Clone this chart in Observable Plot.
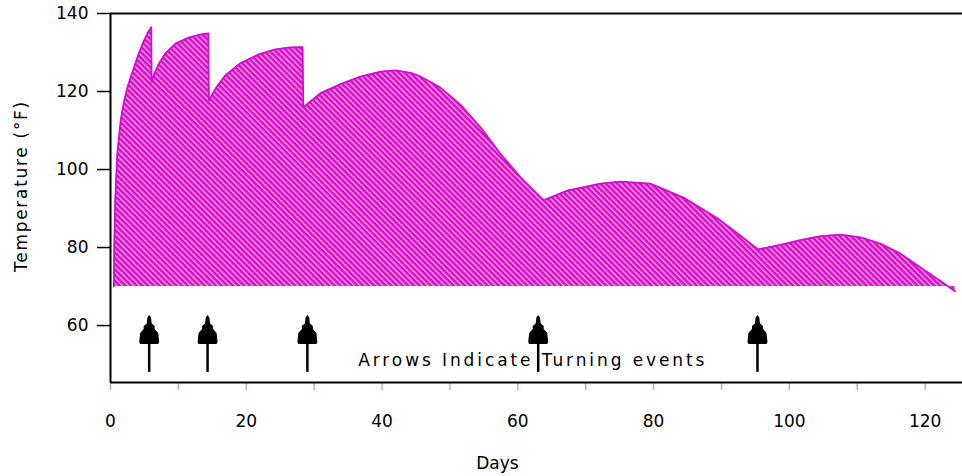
<!DOCTYPE html>
<html><head><meta charset="utf-8">
<script src="https://cdn.jsdelivr.net/npm/d3@7"></script>
<script src="https://cdn.jsdelivr.net/npm/@observablehq/plot@0.6"></script>
<style>
html,body{margin:0;padding:0;background:#fff;}
#chart svg{display:block;font-family:"DejaVu Sans",sans-serif;}
</style></head><body><div id="chart"></div>
<script>
const days = [0.5, 0.55, 0.7, 1.0, 1.5, 2.0, 2.5, 3.0, 3.4, 4.1, 4.8, 5.5, 6.0,
  6.05, 6.4, 7.1, 8.1, 9.6, 11.5, 13.2, 14.4,
  14.5, 15.5, 16.9, 19.1, 21.8, 24.3, 26.5, 28.3,
  28.4, 29.5, 31.0, 33.9, 36.8, 39.8, 42.0, 44.2, 45.7, 48.6, 51.5, 54.5, 57.4, 60.4, 63.8,
  67.3, 72.2, 75.1, 79.5, 84.4, 89.4, 92.8, 95.4,
  98.7, 101.6, 104.6, 107.5, 110.5, 113.4, 116.3, 119.3, 122.2, 124.4];
const temps = [70, 80, 92, 104, 112.5, 117.5, 121, 123.8, 125.8, 129.4, 132.5, 135, 136.5,
  122.5, 124.3, 127, 129.8, 132.3, 133.8, 134.6, 134.9,
  117.7, 120.8, 124.1, 127.2, 129.5, 130.8, 131.3, 131.4,
  115.9, 117.5, 119.6, 121.9, 123.8, 125.1, 125.4, 124.8, 123.8, 121.0, 116.7, 110.8, 104.1, 98.0, 92.1,
  94.6, 96.4, 96.9, 96.4, 92.8, 87.5, 83.0, 79.5,
  80.7, 81.9, 82.9, 83.3, 82.6, 81.0, 78.5, 74.9, 71.5, 68.8];
const turningDays = [5.7, 14.3, 29.0, 63.0, 95.3];
const yTicks = [60, 80, 100, 120, 140];
const xLabelTicks = [0, 20, 40, 60, 80, 100, 120];
const xMinorTicks = [0, 10, 20, 30, 40, 50, 60, 70, 80, 90, 100, 110, 120];
const baseline = 70;
const annotation = ["Arrows Indicate Turning events"];
const yTitle = ["Temperature (°F)"];
const xTitle = ["Days"];

const rows = days.map((d, i) => ({day: d, temp: temps[i]}));

const pine = {
  draw(ctx, size) {
    const k = Math.sqrt(size / Math.PI) / 14.5;
    const pts = [[0,-14.5],[1.8,-12],[2.5,-6],[5.5,-3.5],[5.5,-0.5],[9,3.5],[10,12.5],[9,14.5],[-9,14.5],[-10,12.5],[-9,3.5],[-5.5,-0.5],[-5.5,-3.5],[-2.5,-6],[-1.8,-12]];
    ctx.moveTo(pts[0][0]*k, pts[0][1]*k);
    for (const p of pts.slice(1)) ctx.lineTo(p[0]*k, p[1]*k);
    ctx.closePath();
  }
};

const plot = Plot.plot({
  width: 962, height: 476,
  marginLeft: 110, marginTop: 13, marginRight: 0, marginBottom: 94,
  x: {domain: [0, 125.5], label: null},
  y: {domain: [45.4, 140], label: null},
  style: {fontFamily: "DejaVu Sans, sans-serif", fontSize: "17px", color: "black", background: "white"},
  marks: [
    Plot.areaY(rows, {x: "day", y1: baseline, y2: "temp", fill: "url(#hatch)"}),
    Plot.line(rows, {x: "day", y: "temp", stroke: "#d00cd0", strokeWidth: 1.8}),
    Plot.axisX({ticks: xMinorTicks, tickSize: 8, tickFormat: () => "", stroke: "#c9a0d6", strokeWidth: 1.5, label: null}),
    Plot.axisX({ticks: xLabelTicks, tickSize: 0, tickPadding: 32, fontSize: 17, label: null}),
    Plot.axisY({ticks: yTicks, tickSize: 13, tickPadding: 9, fontSize: 17, strokeWidth: 1.5, label: null}),
    Plot.ruleX([0], {stroke: "black", strokeWidth: 2}),
    Plot.ruleY([140], {stroke: "black", strokeWidth: 2}),
    Plot.ruleY([45.4], {stroke: "black", strokeWidth: 2}),
    Plot.ruleX(turningDays, {x: d => d, y1: 48, y2: 56, stroke: "black", strokeWidth: 2.5}),
    Plot.dot(turningDays, {x: d => d, y: 59, r: 14.5, symbol: pine, fill: "black"}),
    Plot.text(annotation, {x: 62.2, y: 51, text: d => d, fontSize: 17, fill: "black"}),
    Plot.text(yTitle, {frameAnchor: "left", dx: -89, dy: -12, rotate: -90, textAnchor: "middle", lineAnchor: "middle", text: d => d, fontSize: 17, fill: "black"}),
    Plot.text(xTitle, {frameAnchor: "bottom", dx: -39, dy: 86, text: d => d, fontSize: 17, fill: "black"})
  ]
});

const svg = d3.select(plot);
const defs = svg.insert("defs", ":first-child");
const pat = defs.append("pattern").attr("id", "hatch").attr("patternUnits", "userSpaceOnUse")
  .attr("width", 4).attr("height", 4).attr("patternTransform", "rotate(-45)");
pat.append("rect").attr("width", 4).attr("height", 4).attr("fill", "#dc0cc8");
pat.append("rect").attr("width", 1.3).attr("height", 4).attr("fill", "#f6b2ee");

svg.selectAll("text").each(function() {
  const t = this.textContent;
  if (t === annotation[0]) this.style.letterSpacing = "2.9px";
  if (t === yTitle[0]) this.style.letterSpacing = "1.7px";
});

document.getElementById("chart").appendChild(plot);
</script></body></html>
